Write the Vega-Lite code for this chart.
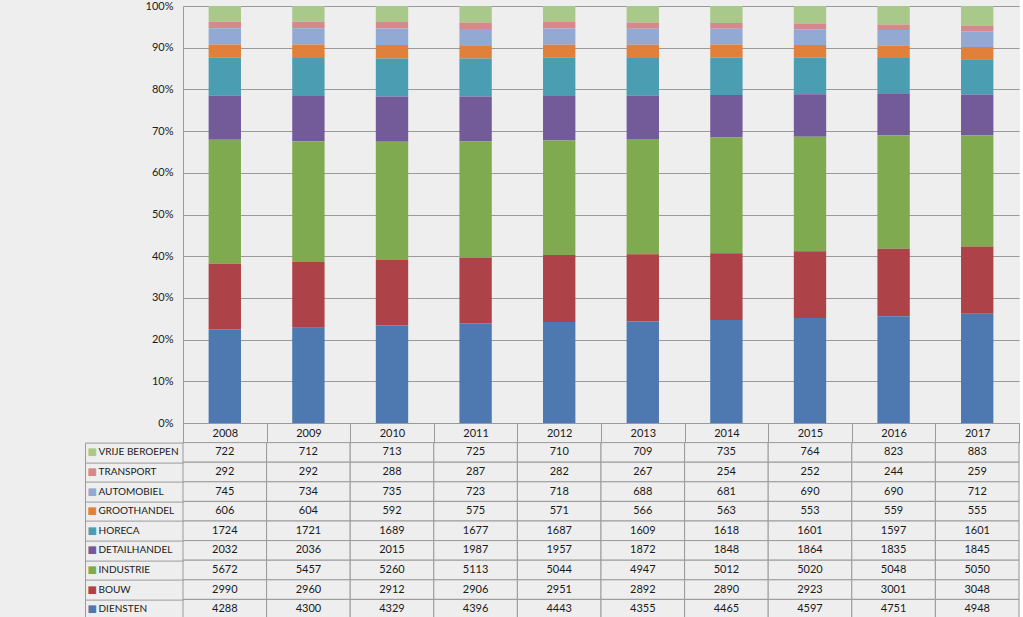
{
  "$schema": "https://vega.github.io/schema/vega-lite/v6.json",
  "background": "#eeeeee",
  "padding": {"left": 84, "top": 0, "right": 0, "bottom": 0},
  "bounds": "flush",
  "spacing": 19.6,
  "config": {
    "view": {"stroke": null},
    "font": "Lato",
    "axis": {"labelFont": "Lato", "labelFontSize": 11, "labelColor": "#1a1a1a", "domainColor": "#9a9a9a", "gridColor": "#9a9a9a", "tickColor": "#9a9a9a"}
  },
  "datasets": {
    "sectoren": [
      {"sector": "DIENSTEN", "volgorde": 1},
      {"sector": "BOUW", "volgorde": 2},
      {"sector": "INDUSTRIE", "volgorde": 3},
      {"sector": "DETAILHANDEL", "volgorde": 4},
      {"sector": "HORECA", "volgorde": 5},
      {"sector": "GROOTHANDEL", "volgorde": 6},
      {"sector": "AUTOMOBIEL", "volgorde": 7},
      {"sector": "TRANSPORT", "volgorde": 8},
      {"sector": "VRIJE BEROEPEN", "volgorde": 9}
    ],
    "cijfers": [
      {"jaar": "2008", "sector": "VRIJE BEROEPEN", "aantal": 722},
      {"jaar": "2009", "sector": "VRIJE BEROEPEN", "aantal": 712},
      {"jaar": "2010", "sector": "VRIJE BEROEPEN", "aantal": 713},
      {"jaar": "2011", "sector": "VRIJE BEROEPEN", "aantal": 725},
      {"jaar": "2012", "sector": "VRIJE BEROEPEN", "aantal": 710},
      {"jaar": "2013", "sector": "VRIJE BEROEPEN", "aantal": 709},
      {"jaar": "2014", "sector": "VRIJE BEROEPEN", "aantal": 735},
      {"jaar": "2015", "sector": "VRIJE BEROEPEN", "aantal": 764},
      {"jaar": "2016", "sector": "VRIJE BEROEPEN", "aantal": 823},
      {"jaar": "2017", "sector": "VRIJE BEROEPEN", "aantal": 883},
      {"jaar": "2008", "sector": "TRANSPORT", "aantal": 292},
      {"jaar": "2009", "sector": "TRANSPORT", "aantal": 292},
      {"jaar": "2010", "sector": "TRANSPORT", "aantal": 288},
      {"jaar": "2011", "sector": "TRANSPORT", "aantal": 287},
      {"jaar": "2012", "sector": "TRANSPORT", "aantal": 282},
      {"jaar": "2013", "sector": "TRANSPORT", "aantal": 267},
      {"jaar": "2014", "sector": "TRANSPORT", "aantal": 254},
      {"jaar": "2015", "sector": "TRANSPORT", "aantal": 252},
      {"jaar": "2016", "sector": "TRANSPORT", "aantal": 244},
      {"jaar": "2017", "sector": "TRANSPORT", "aantal": 259},
      {"jaar": "2008", "sector": "AUTOMOBIEL", "aantal": 745},
      {"jaar": "2009", "sector": "AUTOMOBIEL", "aantal": 734},
      {"jaar": "2010", "sector": "AUTOMOBIEL", "aantal": 735},
      {"jaar": "2011", "sector": "AUTOMOBIEL", "aantal": 723},
      {"jaar": "2012", "sector": "AUTOMOBIEL", "aantal": 718},
      {"jaar": "2013", "sector": "AUTOMOBIEL", "aantal": 688},
      {"jaar": "2014", "sector": "AUTOMOBIEL", "aantal": 681},
      {"jaar": "2015", "sector": "AUTOMOBIEL", "aantal": 690},
      {"jaar": "2016", "sector": "AUTOMOBIEL", "aantal": 690},
      {"jaar": "2017", "sector": "AUTOMOBIEL", "aantal": 712},
      {"jaar": "2008", "sector": "GROOTHANDEL", "aantal": 606},
      {"jaar": "2009", "sector": "GROOTHANDEL", "aantal": 604},
      {"jaar": "2010", "sector": "GROOTHANDEL", "aantal": 592},
      {"jaar": "2011", "sector": "GROOTHANDEL", "aantal": 575},
      {"jaar": "2012", "sector": "GROOTHANDEL", "aantal": 571},
      {"jaar": "2013", "sector": "GROOTHANDEL", "aantal": 566},
      {"jaar": "2014", "sector": "GROOTHANDEL", "aantal": 563},
      {"jaar": "2015", "sector": "GROOTHANDEL", "aantal": 553},
      {"jaar": "2016", "sector": "GROOTHANDEL", "aantal": 559},
      {"jaar": "2017", "sector": "GROOTHANDEL", "aantal": 555},
      {"jaar": "2008", "sector": "HORECA", "aantal": 1724},
      {"jaar": "2009", "sector": "HORECA", "aantal": 1721},
      {"jaar": "2010", "sector": "HORECA", "aantal": 1689},
      {"jaar": "2011", "sector": "HORECA", "aantal": 1677},
      {"jaar": "2012", "sector": "HORECA", "aantal": 1687},
      {"jaar": "2013", "sector": "HORECA", "aantal": 1609},
      {"jaar": "2014", "sector": "HORECA", "aantal": 1618},
      {"jaar": "2015", "sector": "HORECA", "aantal": 1601},
      {"jaar": "2016", "sector": "HORECA", "aantal": 1597},
      {"jaar": "2017", "sector": "HORECA", "aantal": 1601},
      {"jaar": "2008", "sector": "DETAILHANDEL", "aantal": 2032},
      {"jaar": "2009", "sector": "DETAILHANDEL", "aantal": 2036},
      {"jaar": "2010", "sector": "DETAILHANDEL", "aantal": 2015},
      {"jaar": "2011", "sector": "DETAILHANDEL", "aantal": 1987},
      {"jaar": "2012", "sector": "DETAILHANDEL", "aantal": 1957},
      {"jaar": "2013", "sector": "DETAILHANDEL", "aantal": 1872},
      {"jaar": "2014", "sector": "DETAILHANDEL", "aantal": 1848},
      {"jaar": "2015", "sector": "DETAILHANDEL", "aantal": 1864},
      {"jaar": "2016", "sector": "DETAILHANDEL", "aantal": 1835},
      {"jaar": "2017", "sector": "DETAILHANDEL", "aantal": 1845},
      {"jaar": "2008", "sector": "INDUSTRIE", "aantal": 5672},
      {"jaar": "2009", "sector": "INDUSTRIE", "aantal": 5457},
      {"jaar": "2010", "sector": "INDUSTRIE", "aantal": 5260},
      {"jaar": "2011", "sector": "INDUSTRIE", "aantal": 5113},
      {"jaar": "2012", "sector": "INDUSTRIE", "aantal": 5044},
      {"jaar": "2013", "sector": "INDUSTRIE", "aantal": 4947},
      {"jaar": "2014", "sector": "INDUSTRIE", "aantal": 5012},
      {"jaar": "2015", "sector": "INDUSTRIE", "aantal": 5020},
      {"jaar": "2016", "sector": "INDUSTRIE", "aantal": 5048},
      {"jaar": "2017", "sector": "INDUSTRIE", "aantal": 5050},
      {"jaar": "2008", "sector": "BOUW", "aantal": 2990},
      {"jaar": "2009", "sector": "BOUW", "aantal": 2960},
      {"jaar": "2010", "sector": "BOUW", "aantal": 2912},
      {"jaar": "2011", "sector": "BOUW", "aantal": 2906},
      {"jaar": "2012", "sector": "BOUW", "aantal": 2951},
      {"jaar": "2013", "sector": "BOUW", "aantal": 2892},
      {"jaar": "2014", "sector": "BOUW", "aantal": 2890},
      {"jaar": "2015", "sector": "BOUW", "aantal": 2923},
      {"jaar": "2016", "sector": "BOUW", "aantal": 3001},
      {"jaar": "2017", "sector": "BOUW", "aantal": 3048},
      {"jaar": "2008", "sector": "DIENSTEN", "aantal": 4288},
      {"jaar": "2009", "sector": "DIENSTEN", "aantal": 4300},
      {"jaar": "2010", "sector": "DIENSTEN", "aantal": 4329},
      {"jaar": "2011", "sector": "DIENSTEN", "aantal": 4396},
      {"jaar": "2012", "sector": "DIENSTEN", "aantal": 4443},
      {"jaar": "2013", "sector": "DIENSTEN", "aantal": 4355},
      {"jaar": "2014", "sector": "DIENSTEN", "aantal": 4465},
      {"jaar": "2015", "sector": "DIENSTEN", "aantal": 4597},
      {"jaar": "2016", "sector": "DIENSTEN", "aantal": 4751},
      {"jaar": "2017", "sector": "DIENSTEN", "aantal": 4948}
    ]
  },
  "data": {"name": "cijfers"},
  "vconcat": [
    {
      "width": 836,
      "height": 417,
      "transform": [{"lookup": "sector", "from": {"data": {"name": "sectoren"}, "key": "sector", "fields": ["volgorde"]}}],
      "mark": {"type": "bar", "width": {"band": 0.387}},
      "encoding": {
        "x": {"field": "jaar", "type": "ordinal", "scale": {"paddingInner": 0, "paddingOuter": 0},
              "axis": {"labels": true, "ticks": true, "tickBand": "extent", "tickSize": 19.6, "labelPadding": -15, "labelAngle": 0, "labelFontSize": 11, "domain": true, "grid": false, "title": null}},
        "y": {"field": "aantal", "type": "quantitative", "stack": "normalize", "scale": {"domain": [0, 1]},
              "axis": {"values": [0, 0.1, 0.2, 0.3, 0.4, 0.5, 0.6, 0.7, 0.8, 0.9, 1], "format": ".0%", "grid": true, "ticks": false, "domain": true, "labelPadding": 10, "title": null}},
        "order": {"field": "volgorde", "type": "quantitative", "sort": "ascending"},
        "color": {"field": "sector", "type": "nominal",
                  "scale": {"domain": ["DIENSTEN", "BOUW", "INDUSTRIE", "DETAILHANDEL", "HORECA", "GROOTHANDEL", "AUTOMOBIEL", "TRANSPORT", "VRIJE BEROEPEN"],
                            "range": ["#4d79b0", "#ad4348", "#80aa4f", "#735a99", "#4b9db2", "#e0803a", "#92aad3", "#d5898d", "#a9c98a"]},
                  "legend": null}
      }
    },
    {
      "width": 836,
      "height": 176.4,
      "resolve": {"axis": {"y": "independent"}},
      "layer": [
        {
          "mark": {"type": "rect", "fill": "#eeeeee", "stroke": "#9a9a9a", "strokeWidth": 1},
          "encoding": {
            "x": {"field": "jaar", "type": "ordinal", "scale": {"paddingInner": 0, "paddingOuter": 0}, "axis": null},
            "y": {"field": "sector", "type": "nominal",
                  "scale": {"domain": ["VRIJE BEROEPEN", "TRANSPORT", "AUTOMOBIEL", "GROOTHANDEL", "HORECA", "DETAILHANDEL", "INDUSTRIE", "BOUW", "DIENSTEN"], "paddingInner": 0, "paddingOuter": 0},
                  "axis": {"orient": "left", "title": null, "domain": false, "grid": false, "ticks": true, "tickBand": "extent", "tickSize": 98, "labels": false}}
          }
        },
        {
          "mark": {"type": "text", "font": "Lato", "fontSize": 11, "color": "#1a1a1a", "baseline": "middle", "align": "center"},
          "encoding": {
            "x": {"field": "jaar", "type": "ordinal", "axis": null},
            "y": {"field": "sector", "type": "nominal",
                  "axis": {"orient": "left", "title": null, "domain": false, "grid": false, "ticks": false, "labelFontSize": 10,
                           "labelAlign": "left", "labelFlush": false, "labelPadding": 85, "labelColor": "#1a1a1a"}},
            "text": {"field": "aantal", "type": "quantitative", "format": "d"}
          }
        },
        {
          "mark": {"type": "rect", "fill": "#eeeeee", "fillOpacity": 0, "strokeWidth": 0},
          "encoding": {
            "x": {"field": "jaar", "type": "ordinal", "axis": null},
            "y": {"field": "sector", "type": "nominal",
                  "axis": {"orient": "left", "title": null, "domain": true, "offset": 98, "ticks": false, "grid": false,
                           "labelExpr": "'■'", "labelFont": "DejaVu Sans", "labelFontSize": 10, "labelAlign": "left", "labelBaseline": "middle", "labelFlush": false, "labelPadding": -2,
                           "labelColor": {"expr": "datum.value == 'DIENSTEN' ? '#4d79b0' : datum.value == 'BOUW' ? '#ad4348' : datum.value == 'INDUSTRIE' ? '#80aa4f' : datum.value == 'DETAILHANDEL' ? '#735a99' : datum.value == 'HORECA' ? '#4b9db2' : datum.value == 'GROOTHANDEL' ? '#e0803a' : datum.value == 'AUTOMOBIEL' ? '#92aad3' : datum.value == 'TRANSPORT' ? '#d5898d' : '#a9c98a'"}}}
          }
        }
      ]
    }
  ]
}
